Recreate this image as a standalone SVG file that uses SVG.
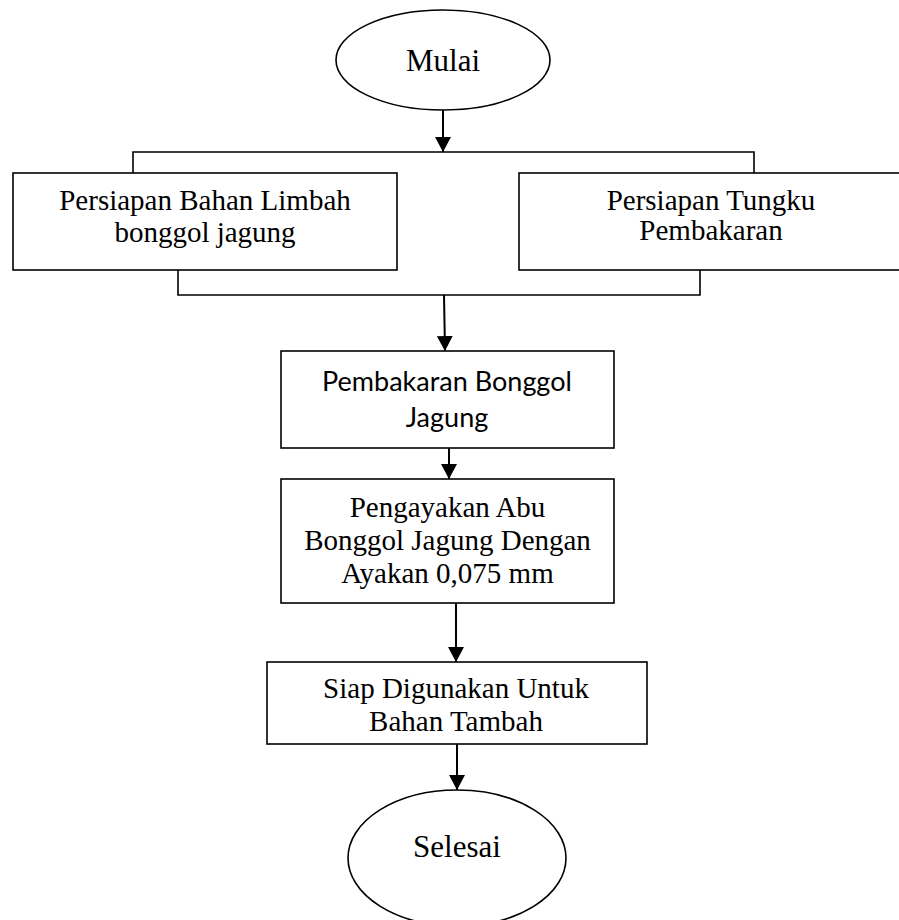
<svg xmlns="http://www.w3.org/2000/svg" width="899" height="920" viewBox="0 0 899 920">
<style>
  .shape { fill: #ffffff; stroke: #000000; stroke-width: 1.6; }
  .ser { font-family: "Liberation Serif", "Times New Roman", serif; font-size: 29px; fill: #000; text-anchor: middle; }
  .big { font-size: 31px; }
  .sans { font-family: Lato, "Open Sans", sans-serif; font-size: 27px; fill: #000; text-anchor: middle; }
  .ln { fill: none; stroke: #000; stroke-width: 1.6; }
  .arr { fill: none; stroke: #000; stroke-width: 2; marker-end: url(#ah); }
</style>
<defs>
  <marker id="ah" markerUnits="userSpaceOnUse" markerWidth="16" markerHeight="16" refX="15" refY="8" orient="auto" viewBox="0 0 16 16">
    <path d="M0,0 L15,8 L0,16 Z" fill="#000"/>
  </marker>
</defs>
<rect width="899" height="920" fill="#ffffff"/>
<g id="connectors">
  <line class="arr" x1="443" y1="110" x2="443" y2="152"/>
  <polyline class="ln" points="133,173 133,152 754,152 754,173"/>
  <polyline class="ln" points="178,270 178,295 700,295 700,270"/>
  <line class="arr" x1="444" y1="295" x2="445" y2="351"/>
  <line class="arr" x1="449" y1="448" x2="449" y2="479"/>
  <line class="arr" x1="456" y1="603" x2="456" y2="662"/>
  <line class="arr" x1="457" y1="744" x2="457" y2="790"/>
</g>
<g id="mulai">
  <ellipse class="shape" cx="443" cy="60" rx="107" ry="50"/>
  <text class="ser big" x="443" y="71">Mulai</text>
</g>
<g id="persiapan-bahan">
  <rect class="shape" x="13" y="173" width="384" height="97"/>
  <text class="ser" x="205" y="210">Persiapan Bahan Limbah</text>
  <text class="ser" x="205" y="242">bonggol jagung</text>
</g>
<g id="persiapan-tungku">
  <rect class="shape" x="519" y="173" width="384" height="97"/>
  <text class="ser" x="711" y="210">Persiapan Tungku</text>
  <text class="ser" x="711" y="240">Pembakaran</text>
</g>
<g id="pembakaran">
  <rect class="shape" x="281" y="351" width="333" height="97"/>
  <text class="sans" x="447" y="391">Pembakaran Bonggol</text>
  <text class="sans" x="447" y="427">Jagung</text>
</g>
<g id="pengayakan">
  <rect class="shape" x="281" y="479" width="333" height="124"/>
  <text class="ser" x="447.5" y="517">Pengayakan Abu</text>
  <text class="ser" x="447.5" y="550">Bonggol Jagung Dengan</text>
  <text class="ser" x="447.5" y="583">Ayakan 0,075 mm</text>
</g>
<g id="siap">
  <rect class="shape" x="267" y="662" width="380" height="82"/>
  <text class="ser" x="456" y="698">Siap Digunakan Untuk</text>
  <text class="ser" x="456" y="731">Bahan Tambah</text>
</g>
<g id="selesai">
  <ellipse class="shape" cx="457" cy="858" rx="109" ry="68"/>
  <text class="ser big" x="457" y="857">Selesai</text>
</g>
</svg>
